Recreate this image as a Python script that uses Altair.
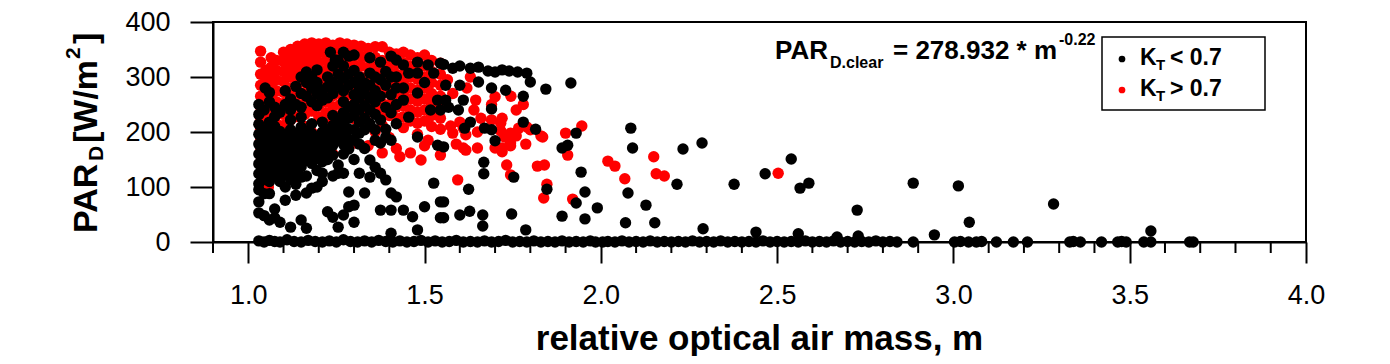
import altair as alt
import pandas as pd

# ---------------- data ----------------
# K_T > 0.7 (red) : (m, PAR_D)
red_core = [
    (1.035, 347), (1.035, 327), (1.035, 305), (1.035, 285), (1.035, 265), (1.035, 245), (1.035, 225), (1.035, 205), (1.035, 185), (1.035, 165), (1.035, 145),
    (1.05, 312), (1.05, 292), (1.05, 272), (1.05, 252), (1.05, 232), (1.05, 212), (1.05, 192), (1.05, 172), (1.05, 150), (1.05, 130),
    (1.057, 100),
    (1.065, 335), (1.065, 318), (1.065, 300), (1.065, 282), (1.065, 262), (1.065, 242), (1.065, 222), (1.065, 160), (1.065, 140),
    (1.08, 330), (1.08, 312), (1.08, 295), (1.08, 275), (1.08, 255), (1.08, 235), (1.08, 215), (1.08, 180),
    (1.10, 345), (1.10, 328), (1.10, 310), (1.10, 292), (1.10, 272), (1.10, 252), (1.10, 232), (1.10, 212), (1.10, 192),
    (1.12, 350), (1.12, 335), (1.12, 318), (1.12, 300), (1.12, 280), (1.12, 260), (1.12, 240), (1.12, 222), (1.12, 150),
    (1.14, 356), (1.14, 340), (1.14, 322), (1.14, 305), (1.14, 287), (1.14, 268), (1.14, 248), (1.14, 228), (1.14, 175),
    (1.16, 360), (1.16, 345), (1.16, 328), (1.16, 310), (1.16, 292), (1.16, 272), (1.16, 252), (1.16, 232), (1.16, 210),
    (1.18, 362), (1.18, 348), (1.18, 332), (1.18, 315), (1.18, 296), (1.18, 278), (1.18, 258), (1.18, 238), (1.18, 200), (1.18, 165),
    (1.20, 360), (1.20, 344), (1.20, 326), (1.20, 308), (1.20, 288), (1.20, 268), (1.20, 248), (1.20, 228), (1.20, 190),
    (1.22, 362), (1.22, 347), (1.22, 330), (1.22, 312), (1.22, 294), (1.22, 274), (1.22, 254), (1.22, 234), (1.22, 214),
    (1.24, 358), (1.24, 342), (1.24, 324), (1.24, 305), (1.24, 286), (1.24, 266), (1.24, 246), (1.24, 226), (1.24, 160),
    (1.26, 362), (1.26, 346), (1.26, 328), (1.26, 310), (1.26, 290), (1.26, 270), (1.26, 250), (1.26, 230), (1.26, 210),
    (1.28, 360), (1.28, 344), (1.28, 326), (1.28, 306), (1.28, 288), (1.28, 268), (1.28, 248), (1.28, 228),
    (1.30, 358), (1.30, 340), (1.30, 322), (1.30, 304), (1.30, 284), (1.30, 264), (1.30, 244), (1.30, 224), (1.30, 180),
    (1.32, 356), (1.32, 338), (1.32, 320), (1.32, 300), (1.32, 280), (1.32, 260), (1.32, 240), (1.32, 220),
    (1.34, 352), (1.34, 335), (1.34, 316), (1.34, 296), (1.34, 276), (1.34, 256), (1.34, 236), (1.34, 216), (1.34, 175),
    (1.36, 355), (1.36, 336), (1.36, 318), (1.36, 298), (1.36, 278), (1.36, 258), (1.36, 238), (1.36, 200),
    (1.38, 355), (1.38, 330), (1.38, 312), (1.38, 292), (1.38, 272), (1.38, 252), (1.38, 232), (1.38, 212), (1.38, 162),
    (1.40, 345), (1.40, 328), (1.40, 310), (1.40, 290), (1.40, 270), (1.40, 250), (1.40, 230), (1.40, 190),
    (1.42, 342), (1.42, 324), (1.42, 305), (1.42, 285), (1.42, 265), (1.42, 245), (1.42, 225), (1.42, 170),
    (1.43, 155),
    (1.44, 345), (1.44, 326), (1.44, 306), (1.44, 288), (1.44, 268), (1.44, 248), (1.44, 228), (1.44, 208),
    (1.46, 340), (1.46, 320), (1.46, 300), (1.46, 280), (1.46, 260), (1.46, 240), (1.46, 220), (1.46, 162),
    (1.48, 335), (1.48, 316), (1.48, 296), (1.48, 276), (1.48, 256), (1.48, 236), (1.48, 216), (1.48, 196),
    (1.49, 149),
    (1.50, 340), (1.50, 320), (1.50, 300), (1.50, 280), (1.50, 260), (1.50, 240), (1.50, 220), (1.50, 175),
    (1.51, 185),
    (1.52, 330), (1.52, 310), (1.52, 290), (1.52, 270), (1.52, 250), (1.52, 230), (1.52, 210),
    (1.545, 325), (1.545, 305), (1.545, 285), (1.545, 265), (1.545, 245), (1.545, 225), (1.545, 205), (1.545, 158),
]
red_scatter = [
    (1.565, 295), (1.58, 270), (1.56, 250), (1.60, 218), (1.574, 211), (1.61, 207), (1.58, 198), (1.617, 195),
    (1.59, 178), (1.61, 171), (1.617, 167), (1.594, 113), (1.645, 258), (1.64, 240), (1.66, 225), (1.65, 200),
    (1.65, 171), (1.62, 280), (1.63, 300), (1.69, 222), (1.70, 264), (1.69, 250), (1.716, 216), (1.716, 202),
    (1.727, 191), (1.72, 225), (1.72, 171), (1.72, 164), (1.70, 171), (1.744, 198), (1.744, 180), (1.744, 175),
    (1.733, 140), (1.744, 122), (1.76, 193), (1.767, 207), (1.787, 178), (1.79, 209), (1.80, 204), (1.78, 250),
    (1.76, 240), (1.745, 265), (1.82, 138), (1.835, 191), (1.84, 140), (1.83, 193), (1.847, 105), (1.838, 80),
    (1.90, 198), (1.906, 158), (1.92, 78), (1.946, 211), (2.02, 147), (2.04, 138), (2.068, 115), (2.15, 155),
    (2.157, 124), (2.18, 120), (2.503, 125),
]

# K_T < 0.7 (black) : (m, PAR_D)
black_core = [
    (1.03, 250), (1.03, 232), (1.03, 214), (1.03, 196), (1.03, 178), (1.03, 160), (1.03, 142), (1.03, 124), (1.03, 106), (1.03, 95), (1.03, 73), (1.03, 53),
    (1.045, 240), (1.045, 204), (1.045, 186), (1.045, 168), (1.045, 150), (1.045, 132), (1.045, 114), (1.045, 88), (1.045, 48),
    (1.048, 280),
    (1.06, 272), (1.06, 255), (1.06, 218), (1.06, 200), (1.06, 182), (1.06, 164), (1.06, 146), (1.06, 128), (1.06, 110), (1.06, 88), (1.06, 40),
    (1.075, 245), (1.075, 228), (1.075, 210), (1.075, 192), (1.075, 174), (1.075, 156), (1.075, 138), (1.075, 120), (1.075, 60), (1.075, 44),
    (1.09, 236), (1.09, 201), (1.09, 183), (1.09, 165), (1.09, 147), (1.09, 129), (1.09, 110), (1.09, 36),
    (1.105, 275), (1.105, 250), (1.105, 194), (1.105, 176), (1.105, 158), (1.105, 140), (1.105, 122), (1.105, 100), (1.105, 76),
    (1.12, 260), (1.12, 240), (1.12, 222), (1.12, 204), (1.12, 186), (1.12, 168), (1.12, 150), (1.12, 132), (1.12, 114), (1.12, 27),
    (1.135, 283), (1.135, 250), (1.135, 196), (1.135, 178), (1.135, 160), (1.135, 142), (1.135, 124), (1.135, 105), (1.135, 85),
    (1.15, 300), (1.15, 270), (1.15, 245), (1.15, 227), (1.15, 209), (1.15, 191), (1.15, 173), (1.15, 155), (1.15, 137), (1.15, 118), (1.15, 40),
    (1.165, 309), (1.165, 290), (1.165, 265), (1.165, 202), (1.165, 184), (1.165, 166), (1.165, 148), (1.165, 120), (1.165, 89), (1.165, 25),
    (1.18, 300), (1.18, 280), (1.18, 255), (1.18, 215), (1.18, 197), (1.18, 179), (1.18, 161), (1.18, 143), (1.18, 98),
    (1.195, 313), (1.195, 290), (1.195, 270), (1.195, 248), (1.195, 190), (1.195, 172), (1.195, 154), (1.195, 130), (1.195, 100),
    (1.21, 276), (1.21, 258), (1.21, 218), (1.21, 200), (1.21, 182), (1.21, 164), (1.21, 146), (1.21, 125), (1.21, 110),
    (1.225, 300), (1.225, 282), (1.225, 262), (1.225, 204), (1.225, 186), (1.225, 168), (1.225, 150), (1.225, 55),
    (1.233, 345), (1.247, 331),
    (1.24, 320), (1.24, 290), (1.24, 270), (1.24, 230), (1.24, 212), (1.24, 194), (1.24, 176), (1.24, 158), (1.24, 120), (1.24, 45),
    (1.255, 330), (1.255, 305), (1.255, 285), (1.255, 222), (1.255, 204), (1.255, 186), (1.255, 140), (1.255, 125), (1.255, 27),
    (1.27, 345), (1.27, 320), (1.27, 298), (1.27, 275), (1.27, 255), (1.27, 235), (1.27, 215), (1.27, 196), (1.27, 178), (1.27, 160), (1.27, 125), (1.27, 49),
    (1.285, 338), (1.285, 305), (1.285, 285), (1.285, 245), (1.285, 225), (1.285, 205), (1.285, 187), (1.285, 169), (1.285, 91), (1.285, 64),
    (1.30, 340), (1.30, 312), (1.30, 290), (1.30, 268), (1.30, 250), (1.30, 230), (1.30, 204), (1.30, 185), (1.30, 150), (1.30, 67), (1.30, 36),
    (1.315, 300), (1.315, 280), (1.315, 262), (1.315, 240), (1.315, 218), (1.315, 198), (1.315, 178), (1.315, 125),
    (1.33, 289), (1.33, 270), (1.33, 248), (1.33, 225), (1.33, 204), (1.33, 170), (1.33, 89),
    (1.345, 335), (1.345, 307), (1.345, 285), (1.345, 262), (1.345, 240), (1.345, 215), (1.345, 149), (1.345, 118),
    (1.36, 300), (1.36, 275), (1.36, 255), (1.36, 232), (1.36, 204), (1.36, 185), (1.36, 136),
    (1.375, 327), (1.375, 295), (1.375, 265), (1.375, 222), (1.375, 180), (1.375, 125), (1.375, 58),
    (1.39, 310), (1.39, 285), (1.39, 245), (1.39, 205), (1.39, 191), (1.39, 113),
    (1.405, 338), (1.405, 300), (1.405, 268), (1.405, 235), (1.405, 185), (1.405, 89), (1.405, 58), (1.405, 16),
    (1.42, 331), (1.42, 300), (1.42, 280), (1.42, 250), (1.42, 215), (1.42, 82),
    (1.44, 322), (1.44, 280), (1.44, 258), (1.44, 58),
    (1.455, 307), (1.455, 227), (1.466, 46),
    (1.48, 327), (1.48, 307), (1.48, 271), (1.48, 191), (1.48, 22),
    (1.50, 290), (1.50, 64), (1.51, 322), (1.517, 240), (1.526, 307), (1.526, 107),
    (1.537, 258), (1.537, 176), (1.545, 325), (1.545, 240), (1.545, 73), (1.545, 44),
]
black_scatter = [
    (1.554, 323), (1.58, 316), (1.60, 320), (1.63, 316), (1.653, 318), (1.68, 311), (1.70, 309), (1.72, 313),
    (1.74, 311), (1.764, 309), (1.79, 307), (1.80, 291), (1.844, 278), (1.915, 289),
    (1.56, 285), (1.60, 285), (1.653, 291), (1.69, 280), (1.73, 276), (1.78, 265),
    (1.61, 258), (1.56, 258), (1.69, 242), (1.596, 240), (1.568, 245),
    (1.614, 207), (1.63, 218), (1.67, 207), (1.69, 204), (1.70, 184), (1.78, 218), (1.815, 205),
    (1.554, 173), (1.668, 145), (1.668, 124), (1.753, 118), (1.625, 96), (1.554, 73), (1.554, 44),
    (1.60, 49), (1.628, 56), (1.665, 49), (1.747, 51), (1.665, 29), (1.787, 22), (1.89, 47), (1.847, 96),
    (1.89, 171), (1.906, 176), (1.93, 198), (1.944, 127), (1.955, 91), (1.93, 71), (1.955, 42), (1.99, 62),
    (2.085, 207), (2.09, 171), (2.077, 89), (2.07, 35), (2.128, 67), (2.153, 35), (2.216, 105), (2.233, 169),
    (2.287, 180), (2.29, 24), (2.378, 105), (2.44, 18), (2.466, 124), (2.54, 151), (2.565, 98), (2.59, 107),
    (2.56, 15), (2.67, 9), (2.727, 58), (2.73, 11), (2.886, 107), (2.946, 13), (3.014, 102), (3.045, 36),
    (3.284, 69), (3.56, 20),
]
black_baseline = [
    (1.03, 2), (1.045, 0), (1.06, 3), (1.075, 1), (1.09, 0), (1.11, 4), (1.13, 1), (1.15, 0), (1.17, 3), (1.19, 1),
    (1.21, 0), (1.23, 2), (1.25, 0), (1.27, 4), (1.29, 1), (1.31, 0), (1.33, 2), (1.35, 0), (1.37, 3), (1.39, 1),
    (1.41, 0), (1.43, 2), (1.45, 0), (1.47, 1), (1.49, 3), (1.51, 0), (1.53, 2), (1.55, 0), (1.57, 1), (1.59, 3),
    (1.61, 0), (1.63, 1), (1.65, 0), (1.67, 2), (1.69, 0), (1.71, 1), (1.73, 3), (1.75, 0), (1.77, 1), (1.79, 0),
    (1.81, 2), (1.83, 0), (1.85, 1), (1.87, 0), (1.89, 2), (1.91, 0), (1.93, 1), (1.95, 0), (1.97, 2), (1.985, 0),
    (2.005, 0), (2.02, 1), (2.04, 0), (2.06, 2), (2.08, 0), (2.10, 1), (2.12, 0), (2.14, 2), (2.16, 0), (2.18, 1),
    (2.20, 0), (2.22, 1), (2.24, 0), (2.26, 2), (2.28, 0), (2.30, 1), (2.32, 0), (2.34, 2), (2.36, 0), (2.38, 1),
    (2.40, 0), (2.42, 1), (2.44, 0), (2.46, 2), (2.48, 0), (2.50, 1), (2.52, 0), (2.54, 1), (2.56, 0), (2.58, 2),
    (2.60, 0), (2.62, 1), (2.64, 0), (2.66, 2), (2.68, 0), (2.70, 1), (2.72, 0), (2.74, 1), (2.76, 0), (2.78, 2),
    (2.80, 0), (2.82, 1), (2.84, 0), (2.886, 0), (3.003, 0), (3.02, 1), (3.043, 0), (3.065, 0), (3.08, 1), (3.122, 0),
    (3.17, 0), (3.21, 0), (3.33, 0), (3.34, 1), (3.36, 0), (3.42, 0), (3.466, 0), (3.477, 1), (3.49, 0), (3.54, 0),
    (3.56, 0), (3.67, 0), (3.68, 0),
]

x_major_ticks = [1.0, 1.5, 2.0, 2.5, 3.0, 3.5, 4.0]
x_minor_ticks = [0.9, 1.1, 1.2, 1.3, 1.4, 1.6, 1.7, 1.8, 1.9, 2.1, 2.2, 2.3, 2.4, 2.6, 2.7, 2.8, 2.9,
                 3.1, 3.2, 3.3, 3.4, 3.6, 3.7, 3.8, 3.9]
y_ticks = [0, 100, 200, 300, 400]

# ---------------- build tables ----------------
red_df = pd.DataFrame(red_core + red_scatter, columns=["m", "par"])
red_df["grp"] = "KT > 0.7"
black_df = pd.DataFrame(black_core + black_scatter + black_baseline, columns=["m", "par"])
black_df["grp"] = "KT < 0.7"

FONT = "Liberation Sans"
W, H = 1093, 220
DOT = 130

x_scale = alt.Scale(domain=[0.9, 4.0], nice=False, zero=False)
y_scale = alt.Scale(domain=[0, 400], nice=False, zero=False)
x_axis = alt.Axis(values=x_major_ticks, format=".1f", tickSize=21, labelPadding=19, labelFontSize=27,
                  labelFlush=False, labelOverlap=False, title=None, grid=False)
y_axis = alt.Axis(values=y_ticks, format="d", tickSize=23, labelPadding=20, labelFontSize=27,
                  labelFlush=False, labelOverlap=False, title=None, grid=False)


def xenc():
    return alt.X("m:Q", scale=x_scale, axis=x_axis)


def yenc():
    return alt.Y("par:Q", scale=y_scale, axis=y_axis)


red_layer = alt.Chart(red_df).mark_circle(size=DOT, opacity=1, color="#ff0000").encode(x=xenc(), y=yenc())
black_layer = alt.Chart(black_df).mark_circle(size=DOT, opacity=1, color="#000000").encode(x=xenc(), y=yenc())

minor = alt.Chart(pd.DataFrame({"m": x_minor_ticks})).mark_rule(color="black", strokeWidth=2).encode(
    x=xenc(), y=alt.value(H), y2=alt.value(H + 11))


def txt(t, x, y, size, angle=0, weight="bold"):
    return alt.Chart(pd.DataFrame({"t": [t]})).mark_text(
        font=FONT, fontWeight=weight, fontSize=size, angle=angle, align="left",
        baseline="alphabetic", color="black").encode(text="t:N", x=alt.value(x), y=alt.value(y))


# y-axis title  PAR_D [W/m^2]
ytitle = [
    txt("PAR", -116, 211, 34, angle=270),
    txt("D", -110, 139, 21, angle=270),
    txt("[W/m", -116, 121, 34, angle=270),
    txt("2", -133, 37, 21, angle=270),
    txt("]", -116, 22, 34, angle=270),
]
# x-axis title
xtitle = alt.Chart(pd.DataFrame({"t": ["relative optical air mass, m"]})).mark_text(
    font=FONT, fontWeight="bold", fontSize=35, align="center", baseline="alphabetic", color="black"
).encode(text="t:N", x=alt.value(W / 2), y=alt.value(328))

# formula  PAR_D.clear = 278.932 * m^-0.22
formula = [
    txt("PAR", 562, 37, 26),
    txt("D.clear", 617, 46, 16),
    txt("= 278.932 * m", 680, 37, 26),
    txt("-0.22", 846, 23, 16),
]

# legend
box = alt.Chart(pd.DataFrame({"a": [0]})).mark_rect(fill="white", stroke="black", strokeWidth=1.5).encode(
    x=alt.value(889), x2=alt.value(1052), y=alt.value(15), y2=alt.value(88))
sym_black = alt.Chart(pd.DataFrame({"a": [0]})).mark_circle(size=45, opacity=1, color="#000000").encode(
    x=alt.value(909), y=alt.value(37))
sym_red = alt.Chart(pd.DataFrame({"a": [0]})).mark_circle(size=45, opacity=1, color="#ff0000").encode(
    x=alt.value(909), y=alt.value(68))
legend = [
    box, sym_black, sym_red,
    txt("K", 927, 43, 23), txt("T", 943, 48, 15), txt("< 0.7", 957, 43, 23),
    txt("K", 927, 74, 23), txt("T", 943, 79, 15), txt("> 0.7", 957, 74, 23),
]

chart = alt.layer(
    red_layer, black_layer, minor, *ytitle, xtitle, *formula, *legend
).properties(
    width=W, height=H,
    autosize=alt.AutoSizeParams(type="none"),
    padding={"left": 205, "top": 14, "right": 70, "bottom": 114},
).configure_view(
    stroke="black", strokeWidth=2
).configure_axis(
    domainColor="black", domainWidth=2, tickColor="black", tickWidth=2,
    labelFont=FONT, labelColor="black"
)

chart.save("out.html", embed_options={"renderer": "svg", "actions": False})
